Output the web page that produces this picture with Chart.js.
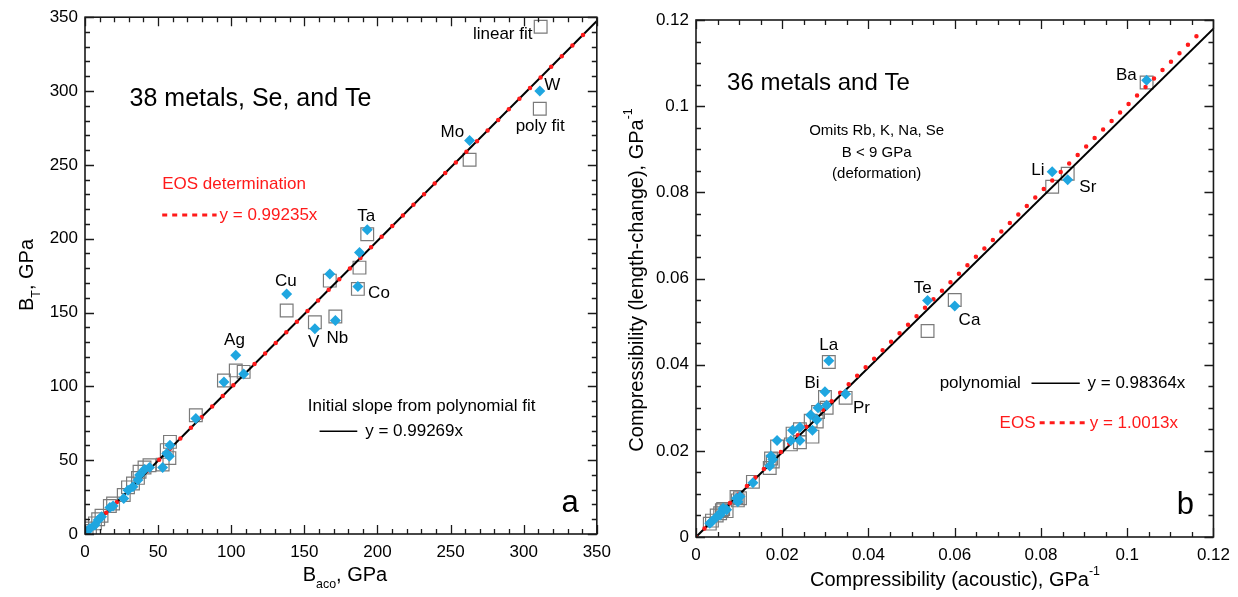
<!DOCTYPE html>
<html>
<head>
<meta charset="utf-8">
<script src="https://cdn.jsdelivr.net/npm/chart.js@4.4.1/dist/chart.umd.min.js"></script>
<style>
  html, body { margin: 0; padding: 0; background: #fff; overflow: hidden; }
  #wrap { position: relative; width: 1238px; height: 597px; }
  canvas { position: absolute; top: 0; }
</style>
</head>
<body>
<div id="wrap">
  <canvas id="chartA" width="619" height="597" style="left:0"></canvas>
  <canvas id="chartB" width="619" height="597" style="left:619px"></canvas>
</div>
<script>
// ---- panel a : bulk modulus (GPa) ----
const xTicksA = [0, 50, 100, 150, 200, 250, 300, 350];
const yTicksA = [0, 50, 100, 150, 200, 250, 300, 350];
const acoA  = [311, 263, 193, 187.7, 186.6, 167.4, 137.9, 157.2, 171.2, 103.1, 108.5, 95, 75.8, 58.1, 55.9, 57.7, 53.1, 44.1, 40.7, 37.3, 36.2, 32.8, 29.4, 26.5, 19.2, 17, 11.3, 9, 6.8, 3.4, 1.1];
const eosA  = [300, 266.5, 206, 190.7, 167.6, 176, 162.6, 139, 144.6, 121, 108.3, 103, 78.2, 60.1, 54.5, 52.7, 45.1, 45.1, 43.7, 39.9, 36.5, 32, 29.7, 24.1, 18.9, 18, 11.7, 9.5, 6.1, 3.8, 1.6];
const polyA = [288, 253.5, 203, 180.4, 166, 171.6, 151.4, 143.4, 147.3, 110.8, 109.8, 104, 80.4, 62.4, 56.8, 51.4, 47, 46.6, 45, 42.1, 38, 34.2, 31.6, 26.4, 20.7, 19, 12.4, 10, 7.2, 3.8, 2];
const linFitX = [311.6];
const linFitY = [343.5];
const polyLineA = { x: [0, 350], y: [0, 347.4] };   // y = 0.99269x
const eosLineA  = { x: [0, 345], y: [0, 342.4] };   // y = 0.99235x

// ---- panel b : compressibility (1/GPa) ----
const xTicksB = [0, 0.02, 0.04, 0.06, 0.08, 0.1, 0.12];
const yTicksB = [0, 0.02, 0.04, 0.06, 0.08, 0.1, 0.12];
const acoB  = [0.1045, 0.0862, 0.0826, 0.0600, 0.0537, 0.0308, 0.0347, 0.0299, 0.0303, 0.0283, 0.0266, 0.0280, 0.0270, 0.0241, 0.0224, 0.0241, 0.0220, 0.0188, 0.0174, 0.0178, 0.0171, 0.0132, 0.0102, 0.0094, 0.0097, 0.0063, 0.0060, 0.0056, 0.0071, 0.0048, 0.0037, 0.0032];
const lenB  = [0.1060, 0.0829, 0.0848, 0.0536, 0.0549, 0.0409, 0.0332, 0.0337, 0.0306, 0.0300, 0.0283, 0.0272, 0.0248, 0.0255, 0.0248, 0.0224, 0.0224, 0.0224, 0.0188, 0.0180, 0.0165, 0.0126, 0.0094, 0.0090, 0.0082, 0.0067, 0.0059, 0.0051, 0.0063, 0.0047, 0.0036, 0.0032];
const polyB = [0.1055, 0.0843, 0.0813, 0.0550, 0.0478, 0.0406, 0.0323, 0.0325, 0.0300, 0.0290, 0.0270, 0.0268, 0.0233, 0.0250, 0.0240, 0.0220, 0.0215, 0.0210, 0.0182, 0.0175, 0.0160, 0.0128, 0.0090, 0.0093, 0.0085, 0.0065, 0.0062, 0.0055, 0.0060, 0.0050, 0.0038, 0.0031];
const polyLineB = { x: [0, 0.12], y: [0, 0.118] };    // y = 0.98364x
const eosLineB  = { x: [0, 0.118], y: [0, 0.1182] };  // y = 1.0013x

const FONT = '"Liberation Sans", Arial, Helvetica, sans-serif';
const BLUE = '#1fa6e0';
const RED = '#ff1a1a';

const pts = (xs, ys) => xs.map((v, i) => ({ x: v, y: ys[i] }));

// text and legend samples, placed in data units
const notesA = [
  { t: '38 metals, Se, and Te', x: 30.5, y: 294.6, size: 25 },
  { t: 'EOS determination', x: 52.8, y: 236.5, size: 17, color: RED },
  { line: [52.8, 90], y: 216, color: RED, dash: [5, 5] },
  { t: 'y = 0.99235x', x: 92, y: 216, size: 17, color: RED },
  { t: 'Initial slope from polynomial fit', x: 152.3, y: 86.5, size: 17 },
  { line: [160.4, 186.2], y: 69.6, color: '#000' },
  { t: 'y = 0.99269x', x: 191.6, y: 69.6, size: 17 },
  { t: 'linear fit', x: 306, y: 338.5, size: 17, align: 'right' },
  { t: 'W', x: 314, y: 304, size: 17 },
  { t: 'poly fit', x: 294.5, y: 276.4, size: 17 },
  { t: 'Mo', x: 259.3, y: 272.3, size: 17, align: 'right' },
  { t: 'Ta', x: 192.3, y: 214.9, size: 17, align: 'center' },
  { t: 'Co', x: 193.6, y: 162.8, size: 17 },
  { t: 'Cu', x: 137.4, y: 171, size: 17, align: 'center' },
  { t: 'V', x: 156.4, y: 129.7, size: 17, align: 'center' },
  { t: 'Nb', x: 172.6, y: 132.4, size: 17, align: 'center' },
  { t: 'Ag', x: 102.2, y: 131, size: 17, align: 'center' },
  { t: 'a', x: 331.7, y: 21, size: 31, align: 'center' }
];
const notesB = [
  { t: '36 metals and Te', x: 0.0072, y: 0.1054, size: 24 },
  { t: 'Omits Rb, K, Na, Se', x: 0.0419, y: 0.0942, size: 15, align: 'center' },
  { t: 'B < 9 GPa', x: 0.0419, y: 0.0891, size: 15, align: 'center' },
  { t: '(deformation)', x: 0.0419, y: 0.0843, size: 15, align: 'center' },
  { t: 'polynomial', x: 0.0565, y: 0.0357, size: 17 },
  { line: [0.0778, 0.0890], y: 0.0357, color: '#000' },
  { t: 'y = 0.98364x', x: 0.0908, y: 0.0357, size: 17 },
  { t: 'EOS', x: 0.0704, y: 0.0265, size: 17, color: RED },
  { line: [0.0797, 0.0903], y: 0.0265, color: RED, dash: [5, 5] },
  { t: 'y = 1.0013x', x: 0.0913, y: 0.0265, size: 17, color: RED },
  { t: 'Ba', x: 0.1022, y: 0.1072, size: 17, align: 'right' },
  { t: 'Li', x: 0.0808, y: 0.0850, size: 17, align: 'right' },
  { t: 'Sr', x: 0.0889, y: 0.0812, size: 17 },
  { t: 'Te', x: 0.0526, y: 0.0578, size: 17, align: 'center' },
  { t: 'Ca', x: 0.0609, y: 0.0504, size: 17 },
  { t: 'La', x: 0.0308, y: 0.0446, size: 17, align: 'center' },
  { t: 'Bi', x: 0.0269, y: 0.0357, size: 17, align: 'center' },
  { t: 'Pr', x: 0.0364, y: 0.0299, size: 17 },
  { t: 'b', x: 0.1135, y: 0.0074, size: 31, align: 'center' }
];

// draw a title made of normal / sub / sup pieces
function richText(ctx, parts, cx, cy, size, vertical) {
  ctx.save();
  ctx.translate(cx, cy);
  if (vertical) ctx.rotate(-Math.PI / 2);
  let total = 0;
  parts.forEach(p => {
    ctx.font = (p[1] ? size * 0.62 : size) + 'px ' + FONT;
    p.w = ctx.measureText(p[0]).width;
    total += p.w;
  });
  let x = -total / 2;
  ctx.textAlign = 'left';
  ctx.textBaseline = 'middle';
  ctx.fillStyle = '#000';
  parts.forEach(p => {
    ctx.font = (p[1] ? size * 0.62 : size) + 'px ' + FONT;
    const dy = p[1] === 'sub' ? size * 0.5 : p[1] === 'sup' ? -size * 0.42 : 0;
    ctx.fillText(p[0], x, dy);
    x += p.w;
  });
  ctx.restore();
}

function framePlugin(xMajor, xStep, yMajor, yStep, notes, titles) {
  return {
    id: 'frame',
    afterDatasetsDraw(chart) {
      const { ctx, chartArea: a } = chart;
      const sx = chart.scales.x, sy = chart.scales.y;
      ctx.save();
      ctx.strokeStyle = '#1a1a1a';
      ctx.lineWidth = 1.3;
      const nx = Math.round((sx.max - sx.min) / xStep);
      for (let i = 0; i <= nx; i++) {
        const v = sx.min + i * xStep;
        const big = xMajor.some(m => Math.abs(m - v) < xStep / 10);
        const p = Math.round(sx.getPixelForValue(v)) + 0.5;
        const len = big ? 9 : 5;
        ctx.beginPath();
        ctx.moveTo(p, a.bottom); ctx.lineTo(p, a.bottom - len);
        ctx.moveTo(p, a.top); ctx.lineTo(p, a.top + len);
        ctx.stroke();
      }
      const ny = Math.round((sy.max - sy.min) / yStep);
      for (let i = 0; i <= ny; i++) {
        const v = sy.min + i * yStep;
        const big = yMajor.some(m => Math.abs(m - v) < yStep / 10);
        const p = Math.round(sy.getPixelForValue(v)) + 0.5;
        const len = big ? 9 : 5;
        ctx.beginPath();
        ctx.moveTo(a.left, p); ctx.lineTo(a.left + len, p);
        ctx.moveTo(a.right, p); ctx.lineTo(a.right - len, p);
        ctx.stroke();
      }
      ctx.lineWidth = 1.6;
      ctx.strokeRect(a.left, a.top, a.right - a.left, a.bottom - a.top);

      // annotations
      notes.forEach(n => {
        if (n.line) {
          ctx.save();
          ctx.strokeStyle = n.color;
          ctx.lineWidth = n.dash ? 3 : 1.4;
          ctx.setLineDash(n.dash || []);
          const py = sy.getPixelForValue(n.y);
          ctx.beginPath();
          ctx.moveTo(sx.getPixelForValue(n.line[0]), py);
          ctx.lineTo(sx.getPixelForValue(n.line[1]), py);
          ctx.stroke();
          ctx.restore();
          return;
        }
        ctx.font = n.size + 'px ' + FONT;
        ctx.fillStyle = n.color || '#000';
        ctx.textAlign = n.align || 'left';
        ctx.textBaseline = 'middle';
        ctx.fillText(n.t, sx.getPixelForValue(n.x), sy.getPixelForValue(n.y));
      });

      // axis titles
      richText(ctx, titles.x, titles.xPos[0], titles.xPos[1], 20, false);
      richText(ctx, titles.y, titles.yPos[0], titles.yPos[1], 20, true);
      ctx.restore();
    }
  };
}

function axis(ticks, min, max, fixed, isX, fmt) {
  return {
    type: 'linear',
    min: min,
    max: max,
    grid: { display: false, drawTicks: false },
    border: { display: false },
    ticks: {
      color: '#000',
      font: { family: FONT, size: 17 },
      padding: isX ? 8 : 7,
      maxRotation: 0,
      callback: fmt
    },
    afterBuildTicks: s => { s.ticks = ticks.map(v => ({ value: v })); },
    afterFit: s => { if (isX) s.height = fixed; else s.width = fixed; }
  };
}

function makeDatasets(xs, dia, sq, polyLine, eosLine, dotGap, extra) {
  const sets = [
    { label: 'EOS', data: pts(xs, dia), pointStyle: 'rectRot', pointRadius: 5.5,
      backgroundColor: BLUE, borderColor: BLUE, borderWidth: 0, showLine: false },
    { label: 'EOS fit', type: 'line', data: pts(eosLine.x, eosLine.y), borderColor: RED,
      borderWidth: 4.5, borderDash: [0, dotGap], borderCapStyle: 'round', pointRadius: 0,
      fill: false, tension: 0 },
    { label: 'poly fit', type: 'line', data: pts(polyLine.x, polyLine.y), borderColor: '#000',
      borderWidth: 2, pointRadius: 0, fill: false, tension: 0 },
    { label: 'fit', data: pts(xs, sq), pointStyle: 'rect', pointRadius: 9,
      backgroundColor: 'rgba(255,255,255,0)', borderColor: '#7a7a7a', borderWidth: 1.2, showLine: false }
  ];
  if (extra) sets.push(extra);
  return sets;
}

const common = {
  responsive: false,
  animation: false,
  devicePixelRatio: 1,
  plugins: { legend: { display: false }, tooltip: { enabled: false } },
  elements: { point: { hoverRadius: 5 } }
};

new Chart(document.getElementById('chartA'), {
  type: 'scatter',
  data: {
    datasets: makeDatasets(acoA, eosA, polyA, polyLineA, eosLineA, 15,
      { label: 'linear fit', data: pts(linFitX, linFitY), pointStyle: 'rect', pointRadius: 9,
        backgroundColor: 'rgba(255,255,255,0)', borderColor: '#7a7a7a', borderWidth: 1.2, showLine: false })
  },
  options: Object.assign({}, common, {
    layout: { padding: { left: 0, right: 17, top: 16, bottom: 0 } },
    scales: {
      x: axis(xTicksA, 0, 350, 63, true),
      y: axis(yTicksA, 0, 350, 85, false)
    }
  }),
  plugins: [framePlugin(xTicksA, 10, yTicksA, 10, notesA, {
    x: [['B'], ['aco', 'sub'], [', GPa']], xPos: [345, 575],
    y: [['B'], ['T', 'sub'], [', GPa']], yPos: [27, 275]
  })]
});

const fmtB = v => String(+Number(v).toFixed(3));

new Chart(document.getElementById('chartB'), {
  type: 'scatter',
  data: { datasets: makeDatasets(acoB, lenB, polyB, polyLineB, eosLineB, 12) },
  options: Object.assign({}, common, {
    layout: { padding: { left: 0, right: 24, top: 20, bottom: 0 } },
    scales: {
      x: axis(xTicksB, 0, 0.12, 60, true, fmtB),
      y: axis(yTicksB, 0, 0.12, 77, false, fmtB)
    }
  }),
  plugins: [framePlugin(xTicksB, 0.005, yTicksB, 0.005, notesB, {
    x: [['Compressibility (acoustic), GPa'], ['-1', 'sup']], xPos: [336, 580],
    y: [['Compressibility (length-change), GPa'], ['-1', 'sup']], yPos: [18, 280]
  })]
});
</script>
</body>
</html>
